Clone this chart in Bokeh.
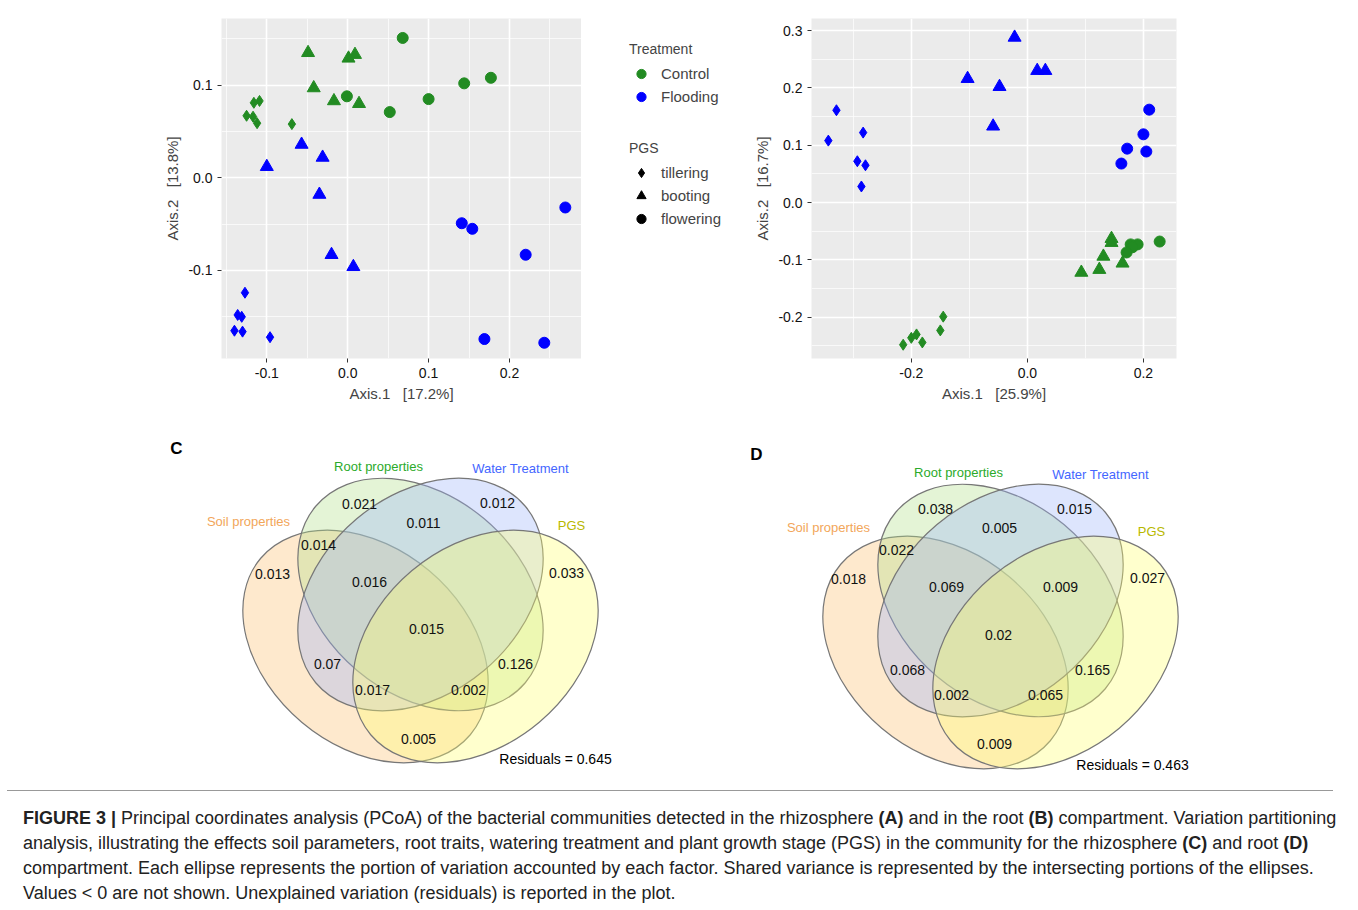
from bokeh.plotting import figure
from bokeh.models import (Range1d, FixedTicker, Legend, LegendItem, Label, Div,
                          ColumnDataSource)
from bokeh.layouts import column, row
from bokeh.core.properties import value
from bokeh.embed import file_html
from bokeh.resources import INLINE

FONT = "Liberation Sans"
GREEN = "#228B22"
BLUE = "#0000FF"
SP = "\u00a0\u00a0\u00a0"

# ---- PCoA data, panel A (rhizosphere) ----
a_ctrl_till_x = [-0.109, -0.116, -0.125, -0.117, -0.112, -0.069]
a_ctrl_till_y = [0.083, 0.081, 0.067, 0.066, 0.059, 0.058]
a_ctrl_boot_x = [-0.049, 0.009, 0.001, -0.042, -0.017, 0.014]
a_ctrl_boot_y = [0.135, 0.133, 0.129, 0.097, 0.083, 0.080]
a_ctrl_flow_x = [0.068, -0.001, 0.052, 0.100, 0.144, 0.177]
a_ctrl_flow_y = [0.151, 0.088, 0.071, 0.085, 0.102, 0.108]
a_flood_till_x = [-0.127, -0.136, -0.131, -0.140, -0.130, -0.096]
a_flood_till_y = [-0.124, -0.148, -0.150, -0.165, -0.166, -0.172]
a_flood_boot_x = [-0.057, -0.031, -0.100, -0.035, -0.020, 0.007]
a_flood_boot_y = [0.036, 0.022, 0.012, -0.018, -0.083, -0.096]
a_flood_flow_x = [0.141, 0.154, 0.269, 0.220, 0.169, 0.243]
a_flood_flow_y = [-0.049, -0.055, -0.032, -0.083, -0.174, -0.178]

# ---- PCoA data, panel B (root) ----
b_ctrl_till_x = [-0.145, -0.150, -0.191, -0.200, -0.181, -0.214]
b_ctrl_till_y = [-0.199, -0.223, -0.230, -0.236, -0.244, -0.248]
b_ctrl_boot_x = [0.145, 0.145, 0.131, 0.164, 0.093, 0.124]
b_ctrl_boot_y = [-0.063, -0.070, -0.094, -0.106, -0.122, -0.117]
b_ctrl_flow_x = [0.228, 0.190, 0.178, 0.181, 0.171]
b_ctrl_flow_y = [-0.068, -0.073, -0.073, -0.078, -0.087]
b_flood_till_x = [-0.329, -0.343, -0.283, -0.293, -0.279, -0.286]
b_flood_till_y = [0.161, 0.108, 0.122, 0.072, 0.065, 0.028]
b_flood_boot_x = [-0.022, -0.103, 0.017, 0.031, -0.048, -0.059]
b_flood_boot_y = [0.288, 0.216, 0.230, 0.230, 0.202, 0.133]
b_flood_flow_x = [0.210, 0.200, 0.172, 0.205, 0.162]
b_flood_flow_y = [0.162, 0.119, 0.094, 0.089, 0.068]

# ---- Venn data ----
venn_sets = ["Soil properties", "Root properties", "Water Treatment", "PGS"]
venn_c_values = ["0.021", "0.012", "0.011", "0.014", "0.013", "0.016", "0.033",
                 "0.015", "0.07", "0.126", "0.017", "0.002", "0.005"]
venn_d_values = ["0.038", "0.015", "0.005", "0.022", "0.018", "0.069", "0.009",
                 "0.027", "0.02", "0.068", "0.165", "0.002", "0.065", "0.009"]
venn_c_resid = "Residuals = 0.645"
venn_d_resid = "Residuals = 0.463"

# value label positions (pixels inside the panel canvas)
c_pos = [(360, 503), (498, 502), (424, 522), (319, 544), (273, 573), (370, 581),
         (567, 572), (427, 628), (328, 663), (516, 663), (373, 689), (469, 689),
         (419, 738)]
d_pos = [(936, 508), (1075, 508), (1000, 527), (897, 549), (849, 578), (947, 586),
         (1061, 586), (1148, 577), (999, 634), (908, 669), (1093, 669), (952, 694),
         (1046, 694), (995, 743)]


def style_pcoa(p, xt, yt, xminor, yminor, xlab, ylab):
    p.background_fill_color = "#EBEBEB"
    p.outline_line_color = None
    p.xaxis.ticker = FixedTicker(ticks=xt, minor_ticks=xminor)
    p.yaxis.ticker = FixedTicker(ticks=yt, minor_ticks=yminor)
    p.xaxis.major_label_overrides = {t: "%.1f" % t for t in xt}
    p.yaxis.major_label_overrides = {t: "%.1f" % t for t in yt}
    for ax in (p.xaxis, p.yaxis):
        ax.axis_line_color = None
        ax.major_tick_line_color = "#333333"
        ax.major_tick_in = 0
        ax.major_tick_out = 4
        ax.minor_tick_line_color = None
        ax.major_label_text_font = FONT
        ax.major_label_text_font_size = "14px"
        ax.major_label_text_color = "#111111"
        ax.axis_label_text_font = FONT
        ax.axis_label_text_font_size = "15px"
        ax.axis_label_text_font_style = "normal"
        ax.axis_label_standoff = 4
    p.xaxis.axis_label = xlab
    p.yaxis.axis_label = ylab
    p.yaxis.major_label_orientation = "horizontal"
    for g in (p.xgrid, p.ygrid):
        g.grid_line_color = "white"
        g.grid_line_width = 1.6
        g.minor_grid_line_color = "white"
        g.minor_grid_line_width = 0.7


def groups(prefix):
    d = globals()
    out = []
    for trt, col in (("ctrl", GREEN), ("flood", BLUE)):
        for stage, mk, sz in (("till", "diamond", 11), ("boot", "triangle", 13),
                              ("flow", "circle", 11)):
            out.append((d["%s_%s_%s_x" % (prefix, trt, stage)],
                        d["%s_%s_%s_y" % (prefix, trt, stage)], col, mk, sz))
    return out


# ---- panel A ----
pA = figure(width=574, height=400, x_range=Range1d(-0.156, 0.289),
            y_range=Range1d(-0.195, 0.172), output_backend="svg",
            toolbar_location=None, min_border_left=214, min_border_right=0,
            min_border_top=10, min_border_bottom=50)
style_pcoa(pA, [-0.1, 0.0, 0.1, 0.2], [-0.1, 0.0, 0.1],
           [-0.15, -0.05, 0.05, 0.15, 0.25], [-0.15, -0.05, 0.05, 0.15],
           "Axis.1" + SP + "[17.2%]", "Axis.2" + SP + "[13.8%]")
for xs, ys, col, mk, sz in groups("a"):
    pA.scatter(xs, ys, marker=mk, size=sz, color=col)
pA.add_layout(Label(x=-0.212, y=0.159, text="A", text_font=FONT,
                    text_font_style="bold", text_font_size="17px"))

# ---- legend panel (between A and B) ----
pL = figure(width=158, height=400, x_range=Range1d(0, 1), y_range=Range1d(0, 1),
            output_backend="svg", toolbar_location=None, min_border=0)
pL.axis.visible = False
pL.grid.visible = False
pL.outline_line_color = None
# key-only renderers: their single point lies outside the visible range
offscreen = ColumnDataSource(data=dict(x=[-9], y=[-9]))
r_ctrl = pL.scatter("x", "y", source=offscreen, marker="circle", size=18, color=GREEN)
r_flood = pL.scatter("x", "y", source=offscreen, marker="circle", size=18, color=BLUE)
r_till = pL.scatter("x", "y", source=offscreen, marker="diamond", size=17, color="black")
r_boot = pL.scatter("x", "y", source=offscreen, marker="triangle", size=20, color="black")
r_flow = pL.scatter("x", "y", source=offscreen, marker="circle", size=18, color="black")


def make_legend(title, items, loc):
    lg = Legend(title=title, items=items, location=loc, orientation="vertical")
    lg.background_fill_alpha = 0
    lg.border_line_color = None
    lg.title_text_font = FONT
    lg.title_text_font_size = "14px"
    lg.title_text_font_style = "normal"
    lg.label_text_font = FONT
    lg.label_text_font_size = "15px"
    lg.spacing = 0
    lg.glyph_width = 24
    lg.glyph_height = 23
    lg.label_standoff = 8
    lg.padding = 2
    lg.margin = 0
    return lg


pL.add_layout(make_legend("Treatment", [LegendItem(label="Control", renderers=[r_ctrl]),
                                        LegendItem(label="Flooding", renderers=[r_flood])],
                          (48, 250)), "center")
pL.add_layout(make_legend("PGS", [LegendItem(label="tillering", renderers=[r_till]),
                                  LegendItem(label="booting", renderers=[r_boot]),
                                  LegendItem(label="flowering", renderers=[r_flow])],
                          (48, 128)), "center")

# ---- panel B ----
pB = figure(width=610, height=400, x_range=Range1d(-0.372, 0.257),
            y_range=Range1d(-0.272, 0.321), output_backend="svg",
            toolbar_location=None, min_border_left=72, min_border_right=173,
            min_border_top=10, min_border_bottom=50)
style_pcoa(pB, [-0.2, 0.0, 0.2], [-0.2, -0.1, 0.0, 0.1, 0.2, 0.3],
           [-0.3, -0.1, 0.1], [-0.25, -0.15, -0.05, 0.05, 0.15, 0.25],
           "Axis.1" + SP + "[25.9%]", "Axis.2" + SP + "[16.7%]")
for xs, ys, col, mk, sz in groups("b"):
    pB.scatter(xs, ys, marker=mk, size=sz, color=col)
pB.add_layout(Label(x=-0.407, y=0.3, text="B", text_font=FONT,
                    text_font_style="bold", text_font_size="17px"))

# ---- Venn panels ----
FILLS = ["#FDBF6F", "#B2DF8A", "#9DB4FA", "#FFFF70"]
LABEL_COLS = ["#F2A65A", "#2BAA2B", "#4466FF", "#B8B800"]
TITLE_POS = [(249, 521), (379, 466), (521, 468), (572, 525)]


def venn(x0, x1, dx, dy, vals, pos, resid, resid_pos, letter):
    p = figure(width=x1 - x0, height=382, x_range=Range1d(x0, x1),
               y_range=Range1d(790, 408), output_backend="svg",
               toolbar_location=None, min_border=0)
    p.axis.visible = False
    p.grid.visible = False
    p.outline_line_color = None
    cx = [366 + dx, 421 + dx, 421 + dx, 476 + dx]
    cy = [646 + dy, 594 + dy, 594 + dy, 646 + dy]
    ang = [-0.7, -0.7, 0.7, 0.7]
    p.ellipse(cx, cy, width=274, height=198, angle=ang, fill_color=FILLS,
              fill_alpha=0.35, line_color="#777777", line_width=1.2)
    p.text([x for x, y in pos], [y for x, y in pos], text=vals,
           text_font=value(FONT), text_font_size="14px", text_align="center",
           text_baseline="middle", text_color="#111111")
    p.text([x + dx for x, y in TITLE_POS], [y + dy for x, y in TITLE_POS],
           text=venn_sets, text_font=value(FONT), text_font_size="13px",
           text_align="center", text_baseline="middle", text_color=LABEL_COLS)
    p.text([resid_pos[0]], [resid_pos[1]], text=[resid], text_font=value(FONT),
           text_font_size="14px", text_align="center", text_baseline="middle")
    p.text([177 + dx], [448 + dy], text=[letter], text_font=value(FONT),
           text_font_size="17px", text_font_style="bold", text_align="center",
           text_baseline="middle")
    return p


pC = venn(8, 680, 0, 0, venn_c_values, c_pos, venn_c_resid, (556, 758), "C")
pD = venn(680, 1350, 580, 6, venn_d_values, d_pos, venn_d_resid, (1133, 764), "D")

caption = Div(width=1342, height=118, margin=0, text=(
    "<div style='font-family:\"Liberation Sans\";font-size:18px;line-height:25px;"
    "color:#222;padding:15px 0 0 16px;border-top:1px solid #999;width:1326px;"
    "white-space:nowrap'>"
    "<b>FIGURE 3 |</b> Principal coordinates analysis (PCoA) of the bacterial communities "
    "detected in the rhizosphere <b>(A)</b> and in the root <b>(B)</b> compartment. "
    "Variation partitioning<br>analysis, illustrating the effects soil parameters, root "
    "traits, watering treatment and plant growth stage (PGS) in the community for the "
    "rhizosphere <b>(C)</b> and root <b>(D)</b><br>compartment. Each ellipse represents the "
    "portion of variation accounted by each factor. Shared variance is represented by the "
    "intersecting portions of the ellipses.<br>Values &lt; 0 are not shown. Unexplained "
    "variation (residuals) is reported in the plot.</div>"))

p = column(row(pA, pL, pB), row(pC, pD), caption, spacing=0, margin=(8, 0, 0, 7))
open("out.html", "w").write(file_html(p, INLINE))
